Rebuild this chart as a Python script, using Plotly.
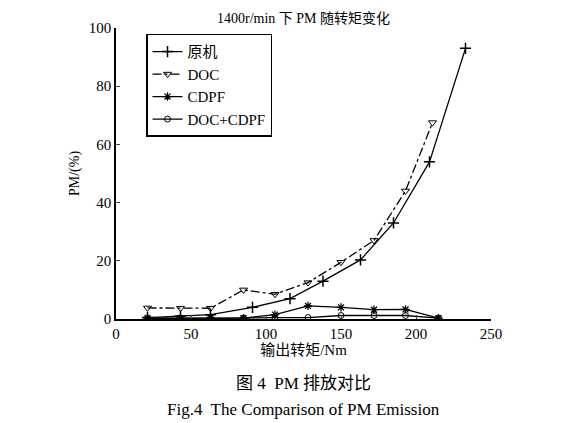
import plotly.graph_objects as go

x_orig = [21, 43, 63, 91, 116, 138, 163, 185, 209, 233]
y_orig = [0.5, 1, 1.5, 4, 7, 13, 20.3, 33, 54, 93]
x_doc = [21, 43, 63, 85, 106, 128, 150, 172, 193, 211]
y_doc = [3.8, 3.7, 3.7, 10, 8.5, 12.5, 19.5, 27, 44, 67.5]
x_cdpf = [21, 43, 63, 85, 106, 128, 150, 172, 193, 215]
y_cdpf = [0.3, 0.3, 0.5, 0.3, 1.5, 4.5, 4, 3.2, 3.3, 0.3]
x_dc = [21, 43, 63, 85, 106, 128, 150, 172, 193, 215]
y_dc = [0.2, 0.2, 0.3, 0.3, 0.5, 0.5, 1.2, 1.2, 1.2, 0.3]

F = "Liberation Serif, Noto Sans CJK SC"
fig = go.Figure()
k = dict(color="black", width=1.3)
fig.add_trace(go.Scatter(x=x_orig, y=y_orig, name="原机", mode="lines+markers",
    line=k, marker=dict(symbol="cross-thin", size=8, line=dict(color="black", width=1.5))))
fig.add_trace(go.Scatter(x=x_doc, y=y_doc, name="DOC", mode="lines+markers",
    line=dict(color="black", width=1.3, dash="dashdot"),
    marker=dict(symbol="triangle-down-open", size=7, color="black")))
fig.add_trace(go.Scatter(x=x_cdpf, y=y_cdpf, name="CDPF", mode="lines+markers",
    line=k, marker=dict(symbol="asterisk-open", size=7, line=dict(color="black", width=1.3))))
fig.add_trace(go.Scatter(x=x_dc, y=y_dc, name="DOC+CDPF", mode="lines+markers",
    line=k, marker=dict(symbol="circle-open", size=6, color="black")))

fig.update_layout(
    width=578, height=423, margin=dict(l=108, r=95, t=20, b=112, autoexpand=False),
    paper_bgcolor="white", plot_bgcolor="white",
    font=dict(family=F, size=15, color="black"),
    showlegend=True,
    legend=dict(x=0.08, y=0.98, xanchor="left", yanchor="top", bordercolor="black",
                borderwidth=1.5, bgcolor="white", font=dict(size=15), tracegroupgap=0),
    xaxis=dict(range=[0, 250], tickvals=[0, 50, 100, 150, 200, 250], showline=True,
               linecolor="black", linewidth=1.5, ticks="inside", ticklen=4, showgrid=False,
               zeroline=False, title=dict(text="输出转矩/Nm", standoff=4, font=dict(size=15))),
    yaxis=dict(range=[0, 100], tickvals=[0, 20, 40, 60, 80, 100], showline=True,
               linecolor="black", linewidth=1.5, ticks="inside", ticklen=4, showgrid=False,
               zeroline=False, title=dict(text="PM/(%)", standoff=6, font=dict(size=14))),
)
fig.add_annotation(text="1400r/min 下 PM 随转矩变化", x=0.5, xref="paper", y=1.0, yref="paper",
                   yanchor="bottom", yshift=0, showarrow=False, font=dict(size=14))
fig.add_annotation(text="图 4  PM 排放对比", x=0.5, xref="paper", y=-0.22, yref="paper",
                   yanchor="middle", showarrow=False, font=dict(size=17))
fig.add_annotation(text="Fig.4  The Comparison of PM Emission", x=0.5, xref="paper", y=-0.31,
                   yref="paper", yanchor="middle", showarrow=False, font=dict(size=17))
fig.write_html("out.html")
